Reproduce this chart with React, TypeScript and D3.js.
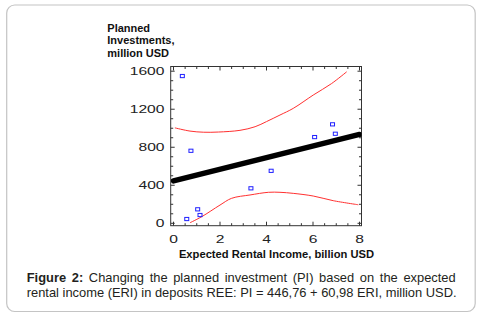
import React, { useLayoutEffect, useRef, useState } from "react";
import * as d3 from "d3";

const xTicks = [0, 2, 4, 6, 8];
const xMinor = d3.range(0, 8.01, 0.5);
const yTicks = [0, 400, 800, 1200, 1600];
const yMinor = d3.range(0, 1601, 100);

const pointsX = [0.38, 0.75, 0.57, 1.04, 1.14, 3.33, 4.2, 6.07, 6.84, 6.96];
const pointsY = [1549, 763, 45, 147, 87, 368, 552, 907, 1041, 942];

const fitX = [0, 8];
const fitY = [446.76, 934.6];

const upperX = [0.06, 0.71, 1.3, 1.93, 2.86, 3.51, 4.0, 4.58, 5.15, 6.01, 6.8, 7.45];
const upperY = [1004, 970, 958, 960, 978, 1016, 1070, 1139, 1209, 1349, 1470, 1594];
const lowerX = [0.71, 1.21, 2.0, 2.5, 3.29, 4.08, 4.58, 5.15, 6.01, 6.87, 7.95];
const lowerY = [6, 69, 192, 263, 298, 326, 326, 315, 287, 238, 195];

const yTitle = ["Planned", "Investments,", "million USD"];
const xTitle = "Expected Rental Income, billion USD";
const captionBold = "Figure 2:";
const captionLine1 = " Changing the planned investment (PI) based on the expected";
const captionLine2 = "rental income (ERI) in deposits REE: PI = 446,76 + 60,98 ERI, million USD.";

const W = 481;
const H = 319;
const frame = { left: 170.7, right: 361.5, top: 66.5, bottom: 225.7 };
const FONT = "'Liberation Sans', Arial, sans-serif";

export default function App() {
  const x = d3.scaleLinear().domain([0, 8]).range([173.5, 359.5]);
  const y = d3.scaleLinear().domain([0, 1600]).range([223.3, 71.2]);

  const line = d3
    .line<[number, number]>()
    .x((d) => x(d[0]))
    .y((d) => y(d[1]))
    .curve(d3.curveCatmullRom);
  const straight = d3
    .line<[number, number]>()
    .x((d) => x(d[0]))
    .y((d) => y(d[1]));

  const upper = upperX.map((v, i) => [v, upperY[i]] as [number, number]);
  const lower = lowerX.map((v, i) => [v, lowerY[i]] as [number, number]);
  const fit = fitX.map((v, i) => [v, fitY[i]] as [number, number]);

  const line1Ref = useRef<SVGTextElement>(null);
  const [ws, setWs] = useState(0);
  const capLeft = 26.7;
  const capWidth = 429;
  useLayoutEffect(() => {
    if (line1Ref.current && ws === 0) {
      const w = line1Ref.current.getComputedTextLength();
      const words = (captionBold + captionLine1).split(" ").length;
      const extra = (capWidth - w) / (words - 1);
      setWs(extra);
    }
  }, [ws]);

  const sx = 1.42;

  return (
    <div style={{ position: "absolute", left: 0, top: 0 }}>
      <svg width={W} height={H} style={{ display: "block", background: "#fff" }}>
        <rect x={6.7} y={5} width={468.5} height={306.5} rx={8} ry={8} fill="#fff" stroke="#c4c4c4" strokeWidth={1.2} />

        {/* y title */}
        {yTitle.map((t, i) => (
          <text key={i} x={107.3} y={31.7 + i * 12.6} fontFamily={FONT} fontWeight="bold" fontSize={11} fill="#111">
            {t}
          </text>
        ))}

        {/* frame */}
        <rect
          x={frame.left}
          y={frame.top}
          width={frame.right - frame.left}
          height={frame.bottom - frame.top}
          fill="none"
          stroke="#333"
          strokeWidth={1}
        />

        {/* x ticks (bottom and top, inward) */}
        {xMinor.map((v) => {
          const major = Math.abs(v - Math.round(v / 2) * 2) < 1e-6;
          const len = major ? 4 : 2.5;
          return (
            <g key={"xt" + v} stroke="#333" strokeWidth={1}>
              <line x1={x(v)} x2={x(v)} y1={frame.bottom} y2={frame.bottom - len} />
              <line x1={x(v)} x2={x(v)} y1={frame.top} y2={frame.top + len} />
            </g>
          );
        })}
        {yMinor.map((v) => {
          const major = v % 400 === 0;
          const len = major ? 4 : 2.5;
          return (
            <g key={"yt" + v} stroke="#333" strokeWidth={1}>
              <line x1={frame.left} x2={frame.left + len} y1={y(v)} y2={y(v)} />
              <line x1={frame.right} x2={frame.right - len} y1={y(v)} y2={y(v)} />
            </g>
          );
        })}

        {/* tick labels */}
        {xTicks.map((v) => (
          <text
            key={"xl" + v}
            transform={`translate(${x(v)},243.3) scale(${sx},1)`}
            textAnchor="middle"
            fontFamily={FONT}
            fontSize={11}
            fill="#222"
          >
            {v}
          </text>
        ))}
        {yTicks.map((v) => (
          <text
            key={"yl" + v}
            transform={`translate(164.5,${y(v) + 4}) scale(${sx},1)`}
            textAnchor="end"
            fontFamily={FONT}
            fontSize={11}
            fill="#222"
          >
            {v}
          </text>
        ))}

        <defs>
          <clipPath id="plotclip">
            <rect x={frame.left} y={frame.top} width={frame.right - frame.left} height={frame.bottom - frame.top} />
          </clipPath>
        </defs>

        <g clipPath="url(#plotclip)">
          <path d={line(upper) || ""} fill="none" stroke="#ff3030" strokeWidth={1} />
          <path d={line(lower) || ""} fill="none" stroke="#ff3030" strokeWidth={1} />
          <path d={straight(fit) || ""} fill="none" stroke="#000" strokeWidth={5.5} strokeLinecap="round" />
          {pointsX.map((v, i) => (
            <rect
              key={"p" + i}
              x={x(v) - 2}
              y={y(pointsY[i]) - 1.6}
              width={4}
              height={3.2}
              fill="none"
              stroke="#2020ff"
              strokeWidth={1}
            />
          ))}
        </g>

        {/* x title */}
        <text x={276.5} y={258} textAnchor="middle" fontFamily={FONT} fontWeight="bold" fontSize={11.2} fill="#111">
          {xTitle}
        </text>

        {/* caption */}
        <text
          ref={line1Ref}
          x={capLeft}
          y={281.5}
          fontFamily={FONT}
          fontSize={12.9}
          fill="#231f20"
          style={{ wordSpacing: ws ? `${ws}px` : undefined }}
        >
          <tspan fontWeight="bold">{captionBold}</tspan>
          {captionLine1}
        </text>
        <text x={capLeft} y={296.5} fontFamily={FONT} fontSize={12.9} fill="#231f20">
          {captionLine2}
        </text>
      </svg>
    </div>
  );
}
